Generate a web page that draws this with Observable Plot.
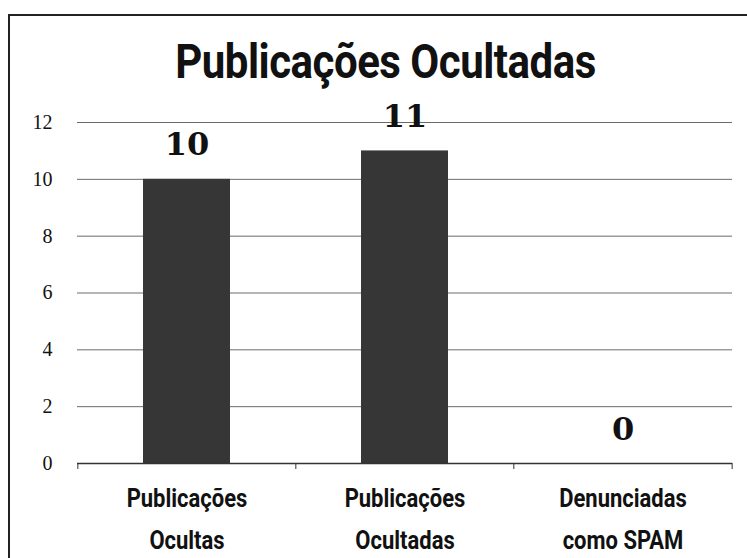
<!DOCTYPE html>
<html>
<head>
<meta charset="utf-8">
<script src="https://cdn.jsdelivr.net/npm/d3@7"></script>
<script src="https://cdn.jsdelivr.net/npm/@observablehq/plot@0.6"></script>
<style>
  html, body { margin: 0; padding: 0; background: #fff; }
  #chart { position: relative; width: 747px; height: 558px; overflow: hidden; background: #fff; }
  #frame { position: absolute; left: 8px; top: 14px; width: 760px; height: 600px;
           border-left: 2px solid #222; border-top: 2px solid #222; box-sizing: border-box; }
  #title { position: absolute; left: 12px; top: 38px; width: 747px; text-align: center;
           font-family: Roboto, "DejaVu Sans", sans-serif; font-weight: bold; font-size: 42px;
           line-height: 1; color: #111; letter-spacing: -0.5px;
           transform: scaleY(1.15); transform-origin: top center; }
  #chart svg { position: absolute; left: 0; top: 0; }
</style>
</head>
<body>
<div id="chart">
  <div id="frame"></div>
  <div id="title">Publicações Ocultadas</div>
</div>
<script>
const titleText = "Publicações Ocultadas";
const categories = ["Publicações\nOcultas", "Publicações\nOcultadas", "Denunciadas\ncomo SPAM"];
const values = [10, 11, 0];
const yTicks = [0, 2, 4, 6, 8, 10, 12];

document.getElementById("title").textContent = titleText;

const data = categories.map((c, i) => ({category: c, value: values[i]}));

const W = 747, H = 558;
const mL = 77, mR = 15, mT = 122, mB = 95;
const halfStep = (W - mL - mR) / categories.length / 2;

const plot = Plot.plot({
  width: W, height: H,
  marginLeft: mL, marginRight: mR, marginTop: mT, marginBottom: mB,
  style: {background: "transparent", color: "#111"},
  x: {domain: categories, paddingInner: 0.6, paddingOuter: 0.3, label: null},
  y: {domain: [0, 12], ticks: yTicks, label: null},
  marks: [
    Plot.gridY(yTicks, {stroke: "#6a6a6a", strokeOpacity: 1, strokeWidth: 1}),
    Plot.barY(data, {x: "category", y: "value", fill: "#363636"}),
    Plot.ruleY([0], {stroke: "#333", strokeWidth: 1.5}),
    Plot.ruleX(categories, {x: d => d, dx: -halfStep, y1: 0, y2: 0, insetBottom: -6, stroke: "#333"}),
    Plot.ruleX(categories.slice(-1), {x: d => d, dx: halfStep, y1: 0, y2: 0, insetBottom: -6, stroke: "#333"}),
    Plot.axisY(yTicks, {tickSize: 0, tickPadding: 25, fontSize: 20, fontFamily: "'Liberation Serif', serif", fill: "#111"}),
    Plot.axisX({tickSize: 0, tickPadding: 14, fontSize: 22, fontWeight: "bold", fontFamily: "Roboto, sans-serif", lineHeight: 1.58, fill: "#111"}),
    Plot.text(data, {x: "category", y: "value", text: d => String(d.value), lineAnchor: "bottom", dy: -24,
      fontSize: 32, fontWeight: "bold", fontFamily: "'DejaVu Serif', serif", fill: "#111"})
  ]
});

// stretch the category labels vertically like the reference's tall condensed lettering
d3.select(plot).selectAll('g[aria-label="x-axis tick label"] text').each(function() {
  const t = this.getAttribute("transform") || "";
  this.setAttribute("transform", t + " scale(1,1.2)");
});

document.getElementById("chart").appendChild(plot);
</script>
</body>
</html>
